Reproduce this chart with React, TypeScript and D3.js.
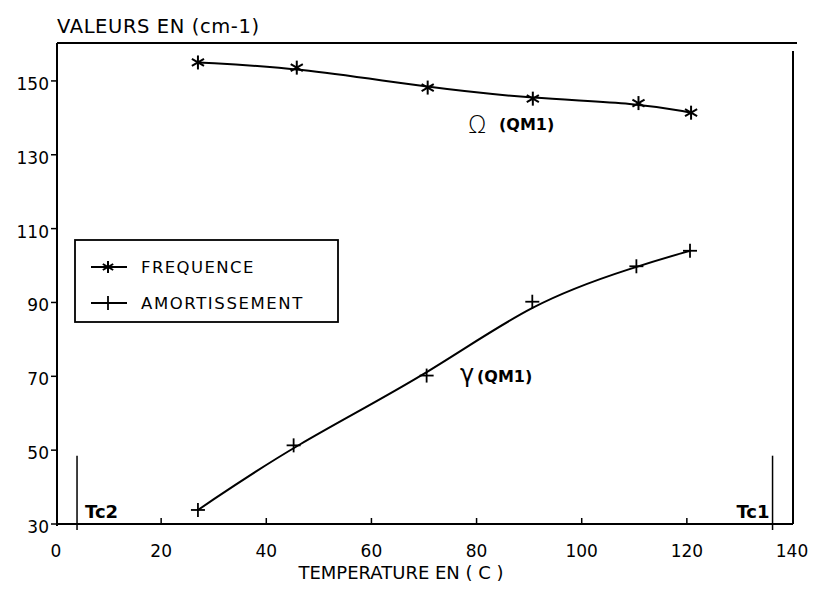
import React from "react";
import * as d3 from "d3";

const temperatures = [27, 45.8, 70.7, 90.7, 110.8, 120.8];
const frequence = [155, 153.6, 148.2, 145.2, 144, 141.4];
const amortTemps = [27, 45.2, 70.5, 90.6, 110.4, 120.6];
const amortissement = [33.8, 51.3, 70.2, 90.2, 99.8, 104];
const xTicks = [0, 20, 40, 60, 80, 100, 120, 140];
const yTicks = [30, 50, 70, 90, 110, 130, 150];
const tcTemps = [4, 136.3];
const tcLabels = ["Tc2", "Tc1"];
const legendLabels = ["FREQUENCE", "AMORTISSEMENT"];

const W = 817;
const H = 598;
const FONT = "'DejaVu Sans', 'Liberation Sans', Arial, sans-serif";

function Asterisk({ x, y, r = 7 }: { x: number; y: number; r?: number }) {
  const arms = [0, 60, 120].map((a) => {
    const rad = (a * Math.PI) / 180 + Math.PI / 2;
    return (
      <line
        key={a}
        x1={x - r * Math.cos(rad)}
        y1={y - r * Math.sin(rad)}
        x2={x + r * Math.cos(rad)}
        y2={y + r * Math.sin(rad)}
        stroke="#000"
        strokeWidth={2}
      />
    );
  });
  return <g>{arms}</g>;
}

function Plus({ x, y, r = 7 }: { x: number; y: number; r?: number }) {
  return (
    <g stroke="#000" strokeWidth={1.8}>
      <line x1={x - r} y1={y} x2={x + r} y2={y} />
      <line x1={x} y1={y - r} x2={x} y2={y + r} />
    </g>
  );
}

export default function App() {
  const x = d3.scaleLinear().domain([0, 140]).range([56, 792]);
  const y = d3.scaleLinear().domain([30, 160]).range([524, 44]);

  const line = d3
    .line<[number, number]>()
    .x((d) => x(d[0]))
    .y((d) => y(d[1]))
    .curve(d3.curveBasis);

  const fPts: [number, number][] = temperatures.map((t, i) => [t, frequence[i]]);
  const aPts: [number, number][] = amortTemps.map((t, i) => [t, amortissement[i]]);

  const left = x(0) + 1;
  const bottom = y(30);
  const top = y(160) - 1;
  const right = x(140) + 1;

  return (
    <svg
      width={W}
      height={H}
      style={{ position: "absolute", left: 0, top: 0, background: "#fff" }}
      fontFamily={FONT}
    >
      <rect x={0} y={0} width={W} height={H} fill="#fff" />
      {/* frame */}
      <line x1={left} y1={top} x2={right + 4} y2={top} stroke="#000" strokeWidth={2} />
      <line x1={left} y1={top} x2={left} y2={bottom + 2} stroke="#000" strokeWidth={2} />
      <line x1={left} y1={bottom} x2={right} y2={bottom} stroke="#000" strokeWidth={2} />
      <line x1={right} y1={top + 8} x2={right} y2={bottom} stroke="#000" strokeWidth={2} />

      {/* y ticks */}
      {yTicks.map((v) => (
        <g key={v}>
          <line x1={left - 6} y1={y(v)} x2={left} y2={y(v)} stroke="#000" strokeWidth={1.5} />
          <text x={left - 8} y={y(v) + 9} textAnchor="end" fontSize={17}>
            {v}
          </text>
        </g>
      ))}

      {/* x ticks */}
      {xTicks.map((v) => (
        <g key={v}>
          {v > 0 && v < 140 && (
            <line x1={x(v)} y1={bottom} x2={x(v)} y2={bottom - 6} stroke="#000" strokeWidth={1.5} />
          )}
          <text x={x(v)} y={bottom + 33} textAnchor="middle" fontSize={17}>
            {v}
          </text>
        </g>
      ))}

      {/* titles */}
      <text x={57} y={33} fontSize={19.5} letterSpacing={0.6}>
        VALEURS EN (cm-1)
      </text>
      <text x={401} y={579} textAnchor="middle" fontSize={18}>
        TEMPERATURE EN ( C )
      </text>

      {/* Tc lines */}
      {tcTemps.map((t, i) => (
        <g key={t}>
          <line x1={x(t)} y1={y(48.5)} x2={x(t)} y2={bottom + 6} stroke="#000" strokeWidth={1.5} />
          <text
            x={i === 0 ? x(t) + 8 : x(t) - 3}
            y={bottom - 6}
            textAnchor={i === 0 ? "start" : "end"}
            fontSize={18}
            fontWeight="bold"
          >
            {tcLabels[i]}
          </text>
        </g>
      ))}

      {/* curves */}
      <path d={line(fPts) || ""} fill="none" stroke="#000" strokeWidth={2} />
      <path d={line(aPts) || ""} fill="none" stroke="#000" strokeWidth={2} />
      {fPts.map((p, i) => (
        <Asterisk key={i} x={x(p[0])} y={y(p[1])} />
      ))}
      {aPts.map((p, i) => (
        <Plus key={i} x={x(p[0])} y={y(p[1])} />
      ))}

      {/* curve labels */}
      <text x={468} y={133} fontSize={24} fontWeight="300">
        Ω
      </text>
      <text x={499} y={130} fontSize={16} fontWeight="bold">
        (QM1)
      </text>
      <text x={460} y={382} fontSize={24}>
        γ
      </text>
      <text x={477} y={382} fontSize={16} fontWeight="bold">
        (QM1)
      </text>

      {/* legend */}
      <rect x={75} y={240} width={263} height={82} fill="#fff" stroke="#000" strokeWidth={1.8} />
      <line x1={91} y1={267} x2={127} y2={267} stroke="#000" strokeWidth={2} />
      <Asterisk x={108} y={267} r={6} />
      <text x={141} y={267} dy="0.36em" fontSize={16.5} letterSpacing={1.4}>
        {legendLabels[0]}
      </text>
      <line x1={91} y1={303} x2={127} y2={303} stroke="#000" strokeWidth={2} />
      <Plus x={108} y={303} r={7} />
      <text x={141} y={303} dy="0.36em" fontSize={16.5} letterSpacing={1.6}>
        {legendLabels[1]}
      </text>
    </svg>
  );
}
